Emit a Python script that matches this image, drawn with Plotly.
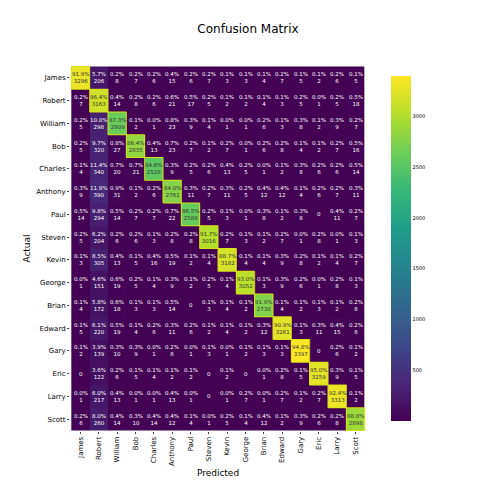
import numpy as np
import plotly.graph_objects as go

names = ["James", "Robert", "William", "Bob", "Charles", "Anthony", "Paul", "Steven",
         "Kevin", "George", "Brian", "Edward", "Gary", "Eric", "Larry", "Scott"]

counts = [
    [3296, 206, 8, 7, 6, 15, 6, 7, 3, 3, 4, 7, 5, 2, 6, 5],
    [7, 3163, 14, 8, 6, 21, 17, 5, 2, 2, 4, 3, 5, 1, 5, 18],
    [5, 298, 2609, 2, 1, 23, 9, 4, 1, 1, 6, 3, 8, 2, 9, 7],
    [5, 320, 27, 2835, 13, 23, 7, 2, 7, 1, 6, 8, 4, 2, 7, 16],
    [4, 340, 20, 21, 2528, 9, 5, 6, 13, 5, 1, 2, 8, 6, 6, 14],
    [9, 390, 31, 2, 6, 2761, 11, 7, 11, 5, 12, 12, 4, 6, 7, 11],
    [14, 294, 14, 7, 7, 22, 2588, 5, 3, 1, 8, 2, 8, 0, 11, 7],
    [5, 204, 6, 6, 3, 8, 8, 3016, 7, 3, 2, 7, 1, 8, 1, 3],
    [3, 305, 13, 5, 16, 19, 2, 4, 3182, 4, 4, 9, 8, 2, 4, 7],
    [1, 151, 19, 5, 4, 9, 2, 5, 4, 3052, 3, 9, 6, 1, 8, 3],
    [4, 172, 18, 3, 3, 14, 0, 3, 4, 2, 2738, 4, 2, 3, 2, 6],
    [5, 220, 19, 4, 6, 11, 6, 2, 4, 2, 12, 3261, 3, 11, 15, 6],
    [2, 139, 10, 9, 1, 6, 1, 3, 1, 2, 3, 3, 3397, 0, 6, 2],
    [0, 122, 6, 5, 4, 2, 2, 0, 2, 0, 1, 8, 5, 3259, 9, 5],
    [1, 217, 13, 1, 1, 13, 1, 0, 1, 7, 1, 7, 2, 7, 3313, 2],
    [6, 260, 14, 10, 14, 12, 4, 1, 5, 4, 12, 2, 9, 6, 8, 2898],
]

z = np.array(counts)
pct = z / z.sum(axis=1, keepdims=True) * 100
zmax = 3397

fig = go.Figure(go.Heatmap(
    z=z, x=names, y=names, colorscale="Viridis", zmin=0, zmax=zmax,
    colorbar=dict(tickvals=[500, 1000, 1500, 2000, 2500, 3000], len=1.0, y=0.5,
                  thickness=20, x=1.05, tickfont=dict(size=5), outlinewidth=0),
))

for i, row in enumerate(names):
    for j, col in enumerate(names):
        v = z[i, j]
        txt = "0" if v == 0 else f"{pct[i, j]:.1f}%<br>{v}"
        color = "#333" if v > zmax * 0.6 else "white"
        fig.add_annotation(x=col, y=row, text=txt, showarrow=False,
                           font=dict(size=5.5, color=color))
    # outline on the diagonal
    fig.add_shape(type="rect", x0=i - 0.5, x1=i + 0.5, y0=i - 0.5, y1=i + 0.5,
                  line=dict(color="#d8e219", width=1))

fig.update_layout(
    width=480, height=480, paper_bgcolor="white", plot_bgcolor="white",
    font=dict(family="DejaVu Sans", color="black"),
    title=dict(text="Confusion Matrix", x=0.5, y=0.965, font=dict(size=12)),
    margin=dict(l=62, r=122, t=58, b=55),
    xaxis=dict(title=dict(text="Predicted", font=dict(size=9), standoff=4),
               tickangle=-90, tickfont=dict(size=7), ticks="outside", ticklen=2,
               showgrid=False),
    yaxis=dict(title=dict(text="Actual", font=dict(size=9), standoff=4),
               autorange="reversed", tickfont=dict(size=7), ticks="outside", ticklen=2,
               showgrid=False),
)

fig.write_html("out.html")
